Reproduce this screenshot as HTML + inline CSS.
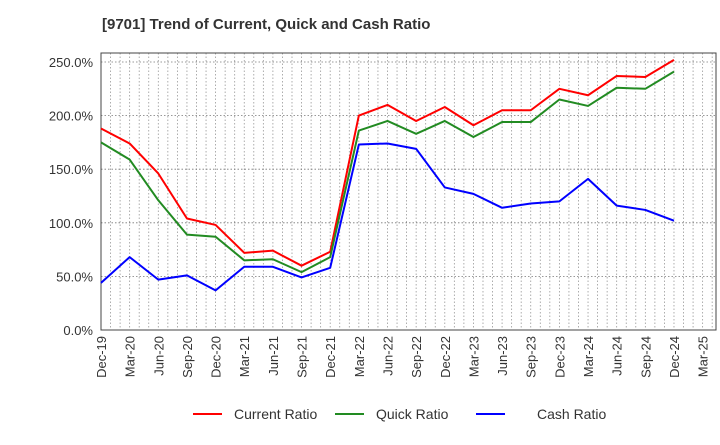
<!DOCTYPE html>
<html><head><meta charset="utf-8"><style>
body{margin:0;background:#fff;font-family:"Liberation Sans",Arial,sans-serif}
svg text{font-family:"Liberation Sans",Arial,sans-serif}
</style></head><body>
<svg width="720" height="440" viewBox="0 0 720 440">
<text x="102" y="29" font-size="15" font-weight="bold" fill="#333">[9701]  Trend of Current, Quick and Cash Ratio</text>
<g id="grid"></g>
<rect x="101" y="53" width="615" height="277" fill="none" stroke="#444" stroke-width="1"/>
<g id="yticks"></g><g id="xticks"></g><g id="series"></g>
<g>
<line x1="193" y1="414" x2="222" y2="414" stroke="#ff0000" stroke-width="2"/>
<text x="234" y="419" font-size="14" fill="#333">Current Ratio</text>
<line x1="335" y1="414" x2="364" y2="414" stroke="#228b22" stroke-width="2"/>
<text x="376" y="419" font-size="14" fill="#333">Quick Ratio</text>
<line x1="476" y1="414" x2="505" y2="414" stroke="#0000ff" stroke-width="2"/>
<text x="537" y="419" font-size="14" fill="#333">Cash Ratio</text>
</g>
</svg>
<script>
const categories=["Dec-19","Mar-20","Jun-20","Sep-20","Dec-20","Mar-21","Jun-21","Sep-21","Dec-21","Mar-22","Jun-22","Sep-22","Dec-22","Mar-23","Jun-23","Sep-23","Dec-23","Mar-24","Jun-24","Sep-24","Dec-24","Mar-25"];
const currentRatio=[188,174,146,104,98,72,74,60,73,200,210,195,208,191,205,205,225,219,237,236,252];
const quickRatio=[175,159,121,89,87,65,66,54,68,186,195,183,195,180,194,194,215,209,226,225,241];
const cashRatio=[44,68,47,51,37,59,59,49,58,173,174,169,133,127,114,118,120,141,116,112,102];
const yTickValues=[0,50,100,150,200,250];
const NS="http://www.w3.org/2000/svg";
const L=101,R=716,T=53,B=330;
const monthMax=64.4;
function xs(i){return L+(i*3)/monthMax*(R-L);}
function xm(m){return L+m/monthMax*(R-L);}
function ys(v){return B-v/258.4*(B-T);}
function mk(tag,attrs,parent){const e=document.createElementNS(NS,tag);for(const k in attrs)e.setAttribute(k,attrs[k]);document.getElementById(parent).appendChild(e);return e;}
for(let m=1;m<monthMax;m++){
  const e=mk("line",{x1:xm(m),x2:xm(m),y1:T,y2:B,stroke:"#999","stroke-width":0.8,"stroke-dasharray":"1.5,2"},"grid");
  
  
}
yTickValues.forEach(v=>{
  if(v>0){const g=mk("line",{x1:L,x2:R,y1:ys(v),y2:ys(v),stroke:"#777","stroke-width":0.8,"stroke-dasharray":"1.5,2"},"grid");
  
  }
  const t=mk("text",{x:93,y:ys(v)+5,"font-size":13,fill:"#333","text-anchor":"end"},"yticks");
  t.textContent=v.toFixed(1)+"%";
  
  
});
categories.forEach((c,i)=>{
  const x=xs(i);
  const t=mk("text",{x:0,y:0,"font-size":13,fill:"#333","text-anchor":"end",transform:`translate(${x+5},336) rotate(-90)`},"xticks");
  t.textContent=c;
  
  
});
[[currentRatio,"#ff0000","current-ratio-line"],[quickRatio,"#228b22","quick-ratio-line"],[cashRatio,"#0000ff","cash-ratio-line"]].forEach(([d,col,name])=>{
  const p=mk("polyline",{points:d.map((v,i)=>xs(i)+","+ys(v)).join(" "),fill:"none",stroke:col,"stroke-width":2,"stroke-linejoin":"round"},"series");
  
  
});
</script>
</body></html>
